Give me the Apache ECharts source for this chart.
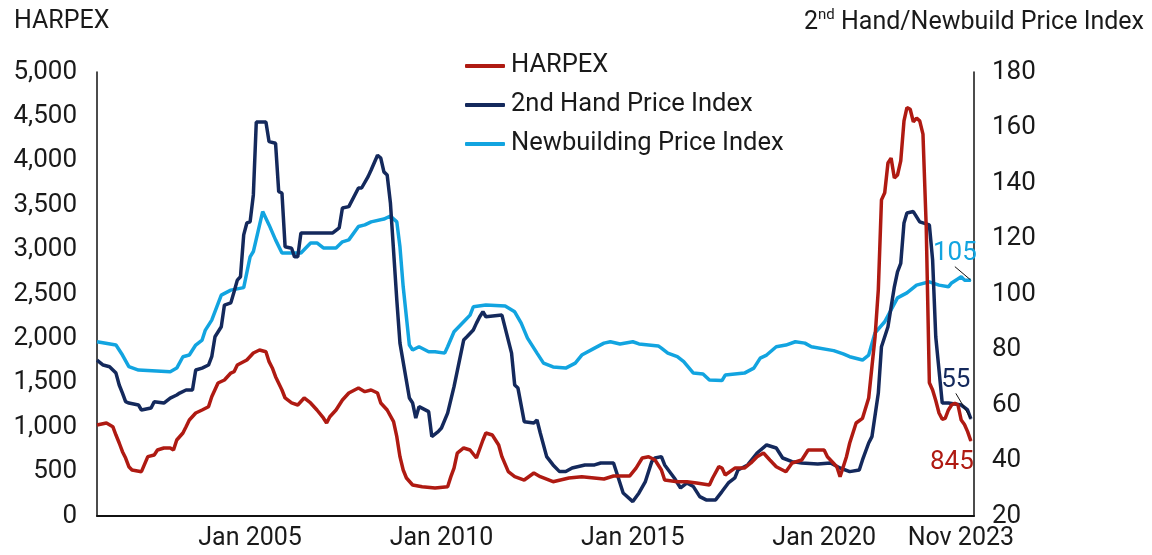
<!DOCTYPE html>
<html>
<head>
<meta charset="utf-8">
<script src="https://cdn.jsdelivr.net/npm/echarts@6/dist/echarts.min.js"></script>
<style>
  html, body { margin: 0; padding: 0; background: #fff; }
  #chart { width: 1152px; height: 555px; }
</style>
</head>
<body>
<div id="chart"></div>
<script>
// HARPEX (left axis), monthly readings
var harpex = [
  ['2001-01',1025],['2001-04',1047],['2001-06',1006],['2001-07',912],['2001-08',822],['2001-09',724],['2001-10',653],['2001-11',555],['2001-12',518],
  ['2002-03',499],['2002-05',668],['2002-07',687],['2002-08',743],['2002-10',766],['2002-12',766],
  ['2003-01',743],['2003-02',856],['2003-04',935],['2003-05',1006],['2003-06',1081],['2003-08',1160],['2003-10',1194],['2003-12',1231],
  ['2004-01',1343],['2004-03',1498],['2004-05',1532],['2004-07',1610],['2004-08',1625],['2004-09',1700],['2004-12',1757],
  ['2005-02',1836],['2005-04',1869],['2005-06',1850],['2005-07',1738],['2005-08',1667],['2005-09',1569],['2005-11',1419],['2005-12',1329],
  ['2006-02',1273],['2006-04',1250],['2006-06',1329],['2006-08',1273],['2006-10',1194],['2006-12',1104],
  ['2007-01',1047],['2007-02',1118],['2007-04',1194],['2007-06',1306],['2007-08',1385],['2007-11',1441],
  ['2008-01',1400],['2008-03',1419],['2008-05',1385],['2008-06',1273],['2008-08',1194],['2008-10',1062],['2008-11',893],['2008-12',668],
  ['2009-01',518],['2009-02',428],['2009-04',349],['2009-07',330],['2009-11',315],
  ['2010-03',330],['2010-04',443],['2010-05',540],['2010-06',709],['2010-08',766],['2010-10',743],['2010-12',653],
  ['2011-02',856],['2011-03',935],['2011-05',912],['2011-07',800],['2011-08',668],['2011-10',499],['2011-12',443],
  ['2012-03',405],['2012-06',484],['2012-08',443],['2012-12',386],
  ['2013-05',428],['2013-09',443],['2014-04',417],['2014-07',450],['2014-12',450],
  ['2015-02',540],['2015-04',653],['2015-06',668],['2015-08',631],['2015-10',518],['2015-11',405],
  ['2016-03',386],['2016-06',386],['2016-09',372],
  ['2017-01',349],['2017-02',428],['2017-04',555],['2017-05',540],['2017-06',462],['2017-09',540],['2017-12',540],
  ['2018-02',597],['2018-04',668],['2018-06',709],['2018-08',631],['2018-10',555],
  ['2019-01',499],['2019-03',597],['2019-06',631],['2019-08',743],
  ['2020-01',743],['2020-02',668],['2020-05',555],['2020-06',443],['2020-08',668],['2020-09',822],['2020-11',1047],
  ['2021-01',1100],['2021-03',1329],['2021-04',1681],['2021-05',2019],['2021-06',2550],['2021-07',3560],['2021-08',3640],
  ['2021-09',3975],['2021-10',4030],['2021-11',3806],['2021-12',3840],
  ['2022-01',4000],['2022-02',4450],['2022-03',4600],['2022-04',4580],['2022-05',4440],['2022-06',4480],['2022-07',4450],
  ['2022-08',4300],['2022-09',3260],['2022-10',1500],['2022-11',1420],['2022-12',1300],
  ['2023-01',1160],['2023-02',1090],['2023-03',1100],['2023-04',1194],['2023-05',1250],['2023-06',1270],['2023-07',1250],
  ['2023-08',1081],['2023-09',1030],['2023-10',950],['2023-11',845]
]

// 2nd hand price index (right axis)
var secondHand = [
  ['2001-01',76.2],['2001-03',74.4],['2001-05',73.8],['2001-07',71.5],['2001-08',67.2],['2001-09',64.3],['2001-10',61.2],['2001-11',60.7],
  ['2002-02',60],['2002-03',58.2],['2002-06',58.9],['2002-07',61.2],['2002-10',60.7],['2002-12',62.5],
  ['2003-02',63.6],['2003-03',64.3],['2003-05',65.4],['2003-07',65.4],['2003-08',72.6],['2003-10',73.3],['2003-12',74.4],
  ['2004-01',77.4],['2004-02',84.6],['2004-04',88.2],['2004-05',96],['2004-07',96.8],['2004-08',100.8],['2004-09',105],
  ['2004-10',106.2],['2004-11',121.3],['2004-12',125.6],
  ['2005-01',126],['2005-02',135.7],['2005-03',162],['2005-06',162],['2005-07',154.9],['2005-09',154.3],['2005-10',136.9],
  ['2005-11',136.4],['2005-12',117],
  ['2006-02',116.5],['2006-03',113.4],['2006-04',113.4],['2006-05',122],
  ['2007-03',122],['2007-05',123.8],['2007-06',131],['2007-08',131.5],['2007-11',138.2],['2007-12',138.2],
  ['2008-02',142.3],['2008-03',144.7],['2008-05',150],['2008-06',149],['2008-07',144],['2008-08',142.9],['2008-09',132.8],
  ['2008-11',97.8],['2008-12',82.3],
  ['2009-03',62.5],['2009-04',60.7],['2009-05',55.3],['2009-06',59.4],['2009-09',57.6],['2009-10',48.6],['2009-12',50.4],
  ['2010-01',51.7],['2010-03',57.1],['2010-05',66.6],['2010-08',83.4],['2010-09',84.6],['2010-11',87],['2010-12',89.5],
  ['2011-01',91.8],['2011-02',93.6],['2011-03',91.8],['2011-08',92.4],['2011-11',78.7],['2011-12',67.2],
  ['2012-01',66.1],['2012-03',54],['2012-06',53.5],['2012-07',54.6],['2012-08',49.9],['2012-10',41.4],['2012-12',38.4],
  ['2013-02',36],['2013-04',36],['2013-06',37.3],['2013-10',38.4],
  ['2014-01',38.4],['2014-03',39.1],['2014-07',39.1],['2014-08',35.5],['2014-10',28.3],
  ['2015-01',25.2],['2015-03',28.3],['2015-05',32.4],['2015-07',39.6],['2015-08',40.9],['2015-10',41.4],['2015-11',38.4],
  ['2016-02',33.7],['2016-04',30.1],['2016-06',31.9],['2016-08',30.6],['2016-10',27],['2016-12',25.8],
  ['2017-03',25.8],['2017-05',28.8],['2017-07',31.9],['2017-09',33.7],['2017-10',36.6],
  ['2018-01',38.4],['2018-04',42.7],['2018-07',45.6],['2018-10',44.5],['2018-12',40.9],
  ['2019-03',39.6],['2019-06',39.1],['2019-11',38.7],
  ['2020-03',39.1],['2020-06',37.3],['2020-09',36],['2020-12',36.6],
  ['2021-01',40.2],['2021-03',46.3],['2021-04',48.6],['2021-06',64.3],['2021-07',81],['2021-09',88.2],['2021-11',102.6],['2021-12',108],
  ['2022-01',111],['2022-02',125.6],['2022-03',129.2],['2022-05',129.7],['2022-07',126],['2022-10',124.9],['2022-11',112.3],['2022-12',84.6],
  ['2023-02',60.7],['2023-04',60.7],['2023-08',60],['2023-10',58.2],['2023-11',55]
]

// newbuilding price index (right axis)
var newbuild = [
  ['2001-01',82.8],['2001-07',81.6],['2001-09',78],['2001-11',73.8],['2002-02',72.6],['2002-12',72],
  ['2003-02',73.3],['2003-04',77.4],['2003-06',78],['2003-08',81.6],['2003-10',83.4],['2003-11',87],
  ['2004-01',90.6],['2004-04',99.6],['2004-07',101.4],['2004-11',102.3],
  ['2005-01',113.4],['2005-02',115.3],['2005-05',129.7],['2005-07',124.9],['2005-09',119.5],['2005-11',114.8],
  ['2006-05',114.8],['2006-08',118.4],['2006-10',118.4],['2006-12',116.6],
  ['2007-04',116.6],['2007-06',118.8],['2007-08',119.5],['2007-11',124.3],
  ['2008-01',124.9],['2008-03',126],['2008-07',127],['2008-09',128.1],['2008-11',126],['2008-12',117],
  ['2009-01',102.6],['2009-03',81.6],['2009-04',79.8],['2009-06',81],['2009-09',79.2],['2009-11',79.2],
  ['2010-02',78.7],['2010-03',81],['2010-05',86.4],['2010-08',90],['2010-10',92.4],['2010-11',95.4],
  ['2011-03',96],['2011-09',95.7],['2011-12',93.6],
  ['2012-02',89.5],['2012-04',84.1],['2012-07',78.7],['2012-09',75.1],['2012-12',73.7],
  ['2013-04',73.3],['2013-07',75.1],['2013-09',78],
  ['2014-01',80.5],['2014-04',82.3],['2014-06',82.8],['2014-09',82],
  ['2015-01',82.8],['2015-03',82],['2015-09',81.3],['2015-10',80.5],['2015-12',78.7],
  ['2016-03',77.4],['2016-05',75.6],['2016-08',71.5],['2016-11',71.2],
  ['2017-01',69],['2017-05',68.8],['2017-06',70.8],['2017-12',71.5],
  ['2018-03',73.3],['2018-05',76.9],['2018-07',78],['2018-10',81],
  ['2019-01',81.6],['2019-04',82.8],['2019-07',82.3],['2019-09',81],
  ['2020-04',79.6],['2020-07',78.4],['2020-09',77.4],
  ['2021-01',76.2],['2021-03',78],['2021-05',86],['2021-08',90],['2021-12',98.6],
  ['2022-03',100.4],['2022-06',103.2],['2022-10',104.4],
  ['2023-01',103.2],['2023-04',102.6],['2023-05',104],['2023-08',106.2],['2023-09',105],['2023-11',105]
]

var xTickDates = ['2005-01', '2010-01', '2015-01', '2020-01', '2023-11']
var xTickLabels = ['Jan 2005', 'Jan 2010', 'Jan 2015', 'Jan 2020', 'Nov 2023']

var RED = '#AF1A12'
var NAVY = '#14295C'
var CYAN = '#12A4E0'
var TXT = '#1a1a1a'
var FONT = 'Roboto'

function toTime(s) {
  var p = s.split('-')
  return Date.UTC(+p[0], +p[1] - 1, 1)
}
var xTickTimes = xTickDates.map(toTime)

// dates -> timestamps; last point gets a tiny symbol so its label can show
function prep(data, color, label) {
  return data.map(function (d, i) {
    var v = [toTime(d[0]), d[1]]
    if (i < data.length - 1) return v
    return { value: v, symbol: 'circle', symbolSize: 1, itemStyle: { color: color }, label: label }
  })
}

function endLabel(color, position) {
  return {
    show: true, position: position, distance: 5,
    fontSize: 26, color: color, fontFamily: FONT,
    formatter: function (p) { return p.value[1] }
  }
}

var myChart = echarts.init(document.getElementById('chart'))

var option = {
  animation: false,
  textStyle: { fontFamily: FONT },
  title: [
    {
      text: 'HARPEX',
      left: 9, top: 4,
      textStyle: { fontSize: 25, fontWeight: 'normal', color: TXT, fontFamily: FONT }
    },
    {
      text: '2{sup|nd} Hand/Newbuild Price Index',
      right: 3, top: 3,
      textStyle: {
        fontSize: 25, fontWeight: 'normal', color: TXT, fontFamily: FONT, lineHeight: 30,
        rich: { sup: { fontSize: 15, verticalAlign: 'top', lineHeight: 30, color: TXT, fontFamily: FONT } }
      }
    }
  ],
  legend: {
    orient: 'vertical',
    left: 460, top: 48,
    itemGap: 13,
    itemWidth: 40, itemHeight: 4,
    icon: 'roundRect',
    textStyle: { fontSize: 25.5, color: TXT, fontFamily: FONT, padding: [0, 0, 0, 1] },
    data: ['HARPEX', '2nd Hand Price Index', 'Newbuilding Price Index']
  },
  grid: { left: 97, right: 178, top: 72, bottom: 39 },
  xAxis: {
    type: 'value',
    min: toTime('2001-01'),
    max: toTime('2023-12'),
    splitLine: { show: false },
    axisTick: { show: false },
    axisLine: { lineStyle: { color: '#111', width: 2 } },
    axisLabel: {
      customValues: xTickTimes,
      hideOverlap: false,
      fontSize: 25, color: TXT, fontFamily: FONT, margin: 10,
      rich: { last: { fontSize: 25, color: TXT, fontFamily: FONT, padding: [0, 20, 0, 0] } },
      formatter: function (val) {
        var i = xTickTimes.indexOf(val)
        if (i < 0) return ''
        return i === xTickLabels.length - 1 ? '{last|' + xTickLabels[i] + '}' : xTickLabels[i]
      }
    }
  },
  yAxis: [
    {
      type: 'value', min: 0, max: 5000, interval: 500,
      splitLine: { show: false },
      axisTick: { show: false },
      axisLine: { show: true, lineStyle: { color: '#111', width: 1.5 } },
      axisLabel: {
        fontSize: 26, color: TXT, fontFamily: FONT, margin: 20,
        formatter: function (v) { return v.toLocaleString('en-US') }
      }
    },
    {
      type: 'value', min: 20, max: 180, interval: 20,
      splitLine: { show: false },
      axisTick: { show: false },
      axisLine: { show: true, lineStyle: { color: '#111', width: 1.5 } },
      axisLabel: { fontSize: 26, color: TXT, fontFamily: FONT, margin: 18 }
    }
  ],
  series: [
    {
      name: 'HARPEX',
      type: 'line', yAxisIndex: 0, symbol: 'none', z: 4,
      lineStyle: { color: RED, width: 3.5 },
      itemStyle: { color: RED },
      labelLayout: { dx: -19, dy: 3 },
      data: prep(harpex, RED, endLabel(RED, 'bottom'))
    },
    {
      name: '2nd Hand Price Index',
      type: 'line', yAxisIndex: 1, symbol: 'none', z: 3,
      lineStyle: { color: NAVY, width: 3.5 },
      itemStyle: { color: NAVY },
      labelLayout: { dx: -15, dy: -20 },
      labelLine: { show: true, lineStyle: { color: '#111', width: 1 } },
      data: prep(secondHand, NAVY, endLabel(NAVY, 'top'))
    },
    {
      name: 'Newbuilding Price Index',
      type: 'line', yAxisIndex: 1, symbol: 'none', z: 2,
      lineStyle: { color: CYAN, width: 3.5 },
      itemStyle: { color: CYAN },
      labelLayout: { dx: -16, dy: -8 },
      labelLine: { show: true, lineStyle: { color: '#111', width: 1 } },
      data: prep(newbuild, CYAN, endLabel(CYAN, 'top'))
    }
  ]
}

myChart.setOption(option)
</script>
</body>
</html>
